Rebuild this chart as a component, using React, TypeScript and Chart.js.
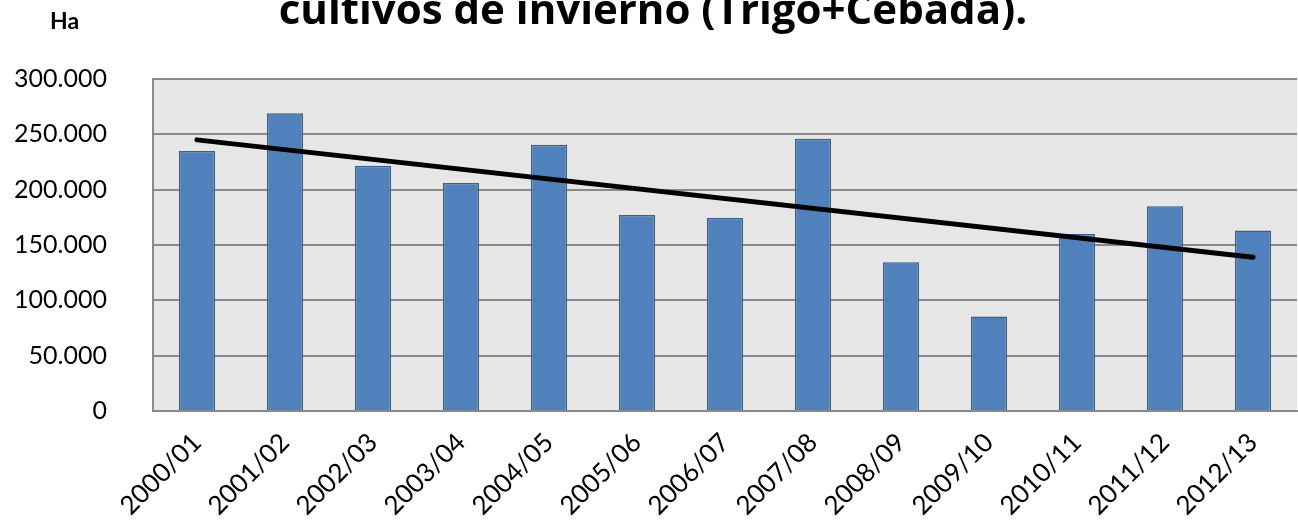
import React, { useEffect, useRef } from "react";
import { Chart, registerables } from "chart.js";

Chart.register(...registerables);

const categories = [
  "2000/01", "2001/02", "2002/03", "2003/04", "2004/05", "2005/06", "2006/07",
  "2007/08", "2008/09", "2009/10", "2010/11", "2011/12", "2012/13",
];
const surfaceHa = [
  235000, 269000, 221500, 206000, 240500, 177000, 174500,
  246000, 134500, 85500, 160000, 185000, 163000,
];
// linear trend line, read at first and last category
const trendStart = 245000;
const trendEnd = 139000;
const titleText = "cultivos de invierno (Trigo+Cebada).";
const unitText = "Ha";
const yMax = 300000;
const yStep = 50000;

const FONT = "Lato, 'Open Sans', sans-serif";
const TITLE_FONT = "'Open Sans', Lato, sans-serif";

function fmt(v: number): string {
  const s = Math.round(v).toString();
  return s.replace(/\B(?=(\d{3})+(?!\d))/g, ".");
}

const trendData: (number | null)[] = categories.map((_, i) =>
  i === 0 ? trendStart : i === categories.length - 1 ? trendEnd : null
);

const decorPlugin = {
  id: "decor",
  beforeDraw(chart: any) {
    const { ctx, chartArea } = chart;
    ctx.save();
    ctx.fillStyle = "#E6E6E6";
    ctx.fillRect(chartArea.left, chartArea.top, chartArea.right - chartArea.left, chartArea.bottom - chartArea.top);
    ctx.restore();
  },
  afterDraw(chart: any) {
    const { ctx } = chart;
    ctx.save();
    ctx.fillStyle = "#000000";
    ctx.textAlign = "center";
    ctx.textBaseline = "alphabetic";
    ctx.font = `bold 42px ${TITLE_FONT}`;
    ctx.fillText(titleText, 653, 24);
    ctx.textAlign = "left";
    ctx.font = `bold 23px ${FONT}`;
    ctx.fillText(unitText, 50, 29);
    ctx.restore();
  },
};

export default function App() {
  const ref = useRef<HTMLCanvasElement | null>(null);

  useEffect(() => {
    document.body.style.margin = "0";
    const canvas = ref.current;
    if (!canvas) return;
    const chart = new Chart(canvas, {
      type: "bar",
      data: {
        labels: categories,
        datasets: [
          {
            type: "line" as const,
            data: trendData,
            borderColor: "#000000",
            borderWidth: 5,
            borderCapStyle: "round",
            pointRadius: 0,
            spanGaps: true,
            fill: false,
            order: 0,
          } as any,
          {
            type: "bar" as const,
            data: surfaceHa,
            backgroundColor: "#4F81BD",
            borderColor: "#3A5F8C",
            borderWidth: 1.5,
            barPercentage: 0.41,
            categoryPercentage: 1,
            order: 1,
          },
        ],
      },
      options: {
        responsive: false,
        animation: false,
        events: [],
        layout: { padding: { top: 79, right: 1, left: 0, bottom: 0 } },
        plugins: {
          legend: { display: false },
          tooltip: { enabled: false },
          title: { display: false },
        },
        scales: {
          x: {
            offset: true,
            grid: { display: false, drawTicks: false },
            border: { display: true, color: "#898989", width: 2 },
            ticks: {
              minRotation: 45,
              maxRotation: 45,
              autoSkip: false,
              padding: 16,
              color: "#000000",
              font: { family: FONT, size: 26 },
            },
            afterFit(scale: any) {
              scale.height = 112;
            },
          },
          y: {
            min: 0,
            max: yMax,
            grid: { color: "#898989", lineWidth: 2, drawTicks: false },
            border: { display: true, color: "#898989", width: 2 },
            ticks: {
              stepSize: yStep,
              padding: 46,
              color: "#000000",
              font: { family: FONT, size: 25 },
              callback: (v: any) => fmt(Number(v)),
            },
            afterFit(scale: any) {
              scale.width = 153;
            },
          },
        },
      },
      plugins: [decorPlugin],
    });
    return () => chart.destroy();
  }, []);

  return (
    <div style={{ position: "absolute", left: 0, top: 0, width: 1298, height: 523, background: "#FFFFFF" }}>
      <canvas ref={ref} width={1298} height={523} style={{ display: "block" }} />
    </div>
  );
}
